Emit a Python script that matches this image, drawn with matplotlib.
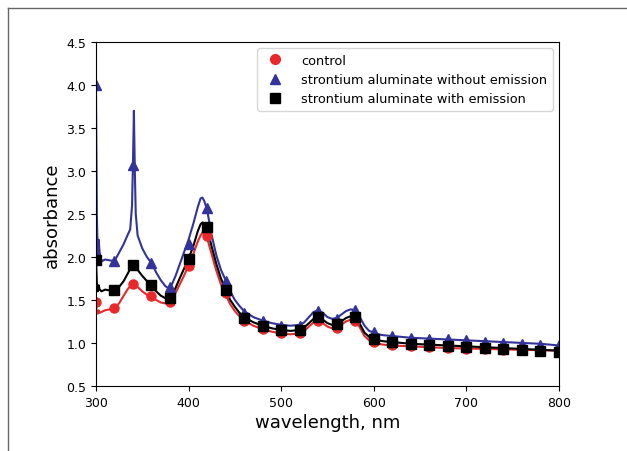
import matplotlib
matplotlib.use("Agg")
import matplotlib.pyplot as plt
from matplotlib.lines import Line2D

# spectra (lines)
line_wl = [300, 301, 302, 303, 304, 306, 310, 315, 320, 325, 330, 334, 337, 339,
           340, 341, 342, 343, 345, 350, 355, 360, 365, 370, 375, 378, 382, 386,
           390, 395, 400, 405, 410, 413, 415, 417, 420, 425, 430, 435, 440, 445,
           450, 455, 460, 470, 480, 490, 500, 510, 520, 525, 530, 535, 540, 545,
           550, 555, 560, 565, 570, 575, 580, 585, 590, 595, 600, 605, 610, 620,
           640, 660, 680, 700, 720, 740, 760, 780, 800]

control_line = [1.45, 1.36, 1.34, 1.38, 1.35, 1.36, 1.38, 1.39, 1.41, 1.46, 1.55, 1.62, 1.66, 1.68,
                1.69, 1.69, 1.68, 1.67, 1.65, 1.60, 1.56, 1.53, 1.50, 1.47, 1.46, 1.46, 1.50, 1.58,
                1.67, 1.78, 1.90, 2.03, 2.18, 2.25, 2.28, 2.27, 2.22, 2.03, 1.84, 1.68, 1.56, 1.45,
                1.37, 1.31, 1.26, 1.20, 1.16, 1.13, 1.11, 1.10, 1.11, 1.14, 1.19, 1.24, 1.26, 1.23,
                1.19, 1.17, 1.18, 1.21, 1.25, 1.27, 1.26, 1.18, 1.08, 1.03, 1.01, 0.99, 0.98, 0.97,
                0.96, 0.95, 0.94, 0.935, 0.93, 0.925, 0.92, 0.915, 0.91]

without_line = [4.00, 2.50, 1.98, 2.20, 2.05, 1.95, 1.97, 1.96, 1.95, 2.05, 2.15, 2.25, 2.32, 2.60,
                3.10, 3.70, 3.00, 2.50, 2.25, 2.10, 2.00, 1.93, 1.82, 1.73, 1.66, 1.64, 1.68, 1.78,
                1.90, 2.05, 2.20, 2.38, 2.58, 2.68, 2.69, 2.65, 2.55, 2.25, 2.02, 1.85, 1.73, 1.60,
                1.50, 1.43, 1.37, 1.30, 1.26, 1.23, 1.21, 1.20, 1.21, 1.24, 1.30, 1.36, 1.38, 1.35,
                1.30, 1.28, 1.29, 1.33, 1.37, 1.39, 1.38, 1.30, 1.20, 1.14, 1.12, 1.10, 1.09, 1.08,
                1.06, 1.05, 1.04, 1.03, 1.02, 1.01, 1.00, 0.99, 0.97]

with_line = [2.00, 1.70, 1.60, 1.67, 1.62, 1.60, 1.62, 1.61, 1.61, 1.65, 1.72, 1.80, 1.86, 1.90,
             1.92, 1.92, 1.90, 1.88, 1.85, 1.78, 1.72, 1.66, 1.60, 1.55, 1.52, 1.51, 1.55, 1.64,
             1.74, 1.86, 1.98, 2.12, 2.30, 2.38, 2.40, 2.39, 2.33, 2.12, 1.92, 1.75, 1.62, 1.50,
             1.42, 1.35, 1.30, 1.24, 1.20, 1.17, 1.15, 1.14, 1.15, 1.18, 1.23, 1.28, 1.30, 1.27,
             1.23, 1.21, 1.22, 1.25, 1.29, 1.31, 1.30, 1.22, 1.12, 1.07, 1.05, 1.03, 1.02, 1.01,
             0.99, 0.98, 0.97, 0.96, 0.95, 0.94, 0.93, 0.92, 0.91]

# sampled points (markers)
mark_wl = [300, 320, 340, 360, 380, 400, 420, 440, 460, 480, 500, 520, 540,
           560, 580, 600, 620, 640, 660, 680, 700, 720, 740, 760, 780, 800]
control_pts = [1.47, 1.41, 1.68, 1.54, 1.47, 1.90, 2.24, 1.58, 1.26, 1.16, 1.11, 1.11, 1.26,
               1.17, 1.26, 1.01, 0.97, 0.96, 0.95, 0.94, 0.93, 0.93, 0.92, 0.92, 0.91, 0.91]
without_pts = [4.00, 1.95, 3.07, 1.93, 1.65, 2.15, 2.57, 1.72, 1.35, 1.25, 1.20, 1.20, 1.37,
               1.28, 1.38, 1.13, 1.08, 1.06, 1.05, 1.04, 1.03, 1.01, 1.00, 0.99, 0.98, 0.97]
with_pts = [1.97, 1.62, 1.91, 1.67, 1.52, 1.98, 2.35, 1.62, 1.29, 1.20, 1.15, 1.15, 1.30,
            1.22, 1.30, 1.05, 1.01, 0.99, 0.97, 0.96, 0.95, 0.94, 0.93, 0.92, 0.91, 0.90]

labels = ["control", "strontium aluminate without emission", "strontium aluminate with emission"]
red = "#e8282b"
blue = "#333399"
ms = 6.5

fig = plt.figure(figsize=(6.27, 4.52), dpi=100)
ax = fig.add_axes([0.153, 0.144, 0.7385, 0.761])

ax.plot(line_wl, control_line, color=red, lw=1.5)
ax.plot(line_wl, without_line, color=blue, lw=1.5)
ax.plot(line_wl, with_line, color="black", lw=1.5)
ax.plot(mark_wl, control_pts, "o", color=red, ms=ms)
ax.plot(mark_wl, without_pts, "^", color=blue, ms=ms)
ax.plot(mark_wl, with_pts, "s", color="black", ms=ms)

ax.set_xlim(300, 800)
ax.set_ylim(0.5, 4.5)
ax.set_xticks([300, 400, 500, 600, 700, 800])
ax.set_yticks([0.5, 1.0, 1.5, 2.0, 2.5, 3.0, 3.5, 4.0, 4.5])
ax.tick_params(labelsize=9)
ax.set_xlabel("wavelength, nm", fontsize=13, labelpad=3)
ax.set_ylabel("absorbance", fontsize=13)

handles = [Line2D([], [], ls="none", marker="o", color=red, ms=7),
           Line2D([], [], ls="none", marker="^", color=blue, ms=7),
           Line2D([], [], ls="none", marker="s", color="black", ms=7)]
ax.legend(handles, labels, loc="upper right", fontsize=9.3, handletextpad=1.0)

# outer frame (top and left edges only)
fig.add_artist(Line2D([8 / 627, 1], [1 - 9 / 452, 1 - 9 / 452], color="#666666", lw=1))
fig.add_artist(Line2D([8 / 627, 8 / 627], [0, 1 - 9 / 452], color="#666666", lw=1))

fig.savefig("out.png", dpi=100)
